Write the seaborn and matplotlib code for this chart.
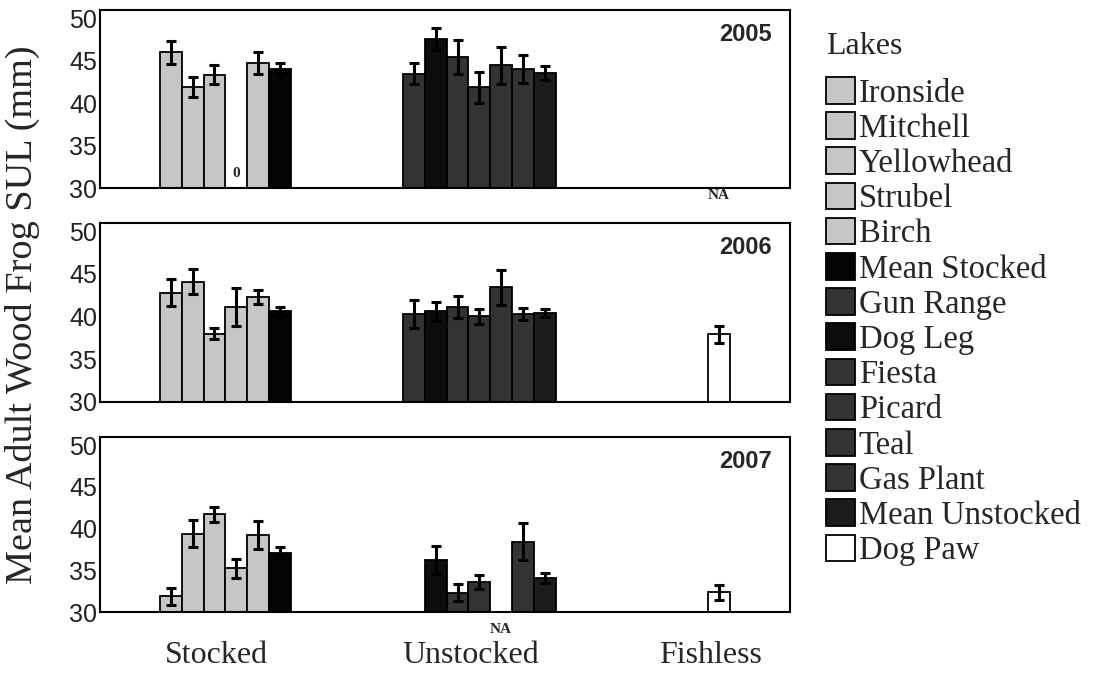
import numpy as np
import pandas as pd
import matplotlib
matplotlib.use("Agg")
import matplotlib.pyplot as plt
import seaborn as sns
from matplotlib.patches import Patch

# ---------------- data ----------------
lakes = ["Ironside", "Mitchell", "Yellowhead", "Strubel", "Birch", "Mean Stocked",
         "Gun Range", "Dog Leg", "Fiesta", "Picard", "Teal", "Gas Plant",
         "Mean Unstocked", "Dog Paw"]
lake_group = ["Stocked"] * 6 + ["Unstocked"] * 7 + ["Fishless"]
group_names = ["Stocked", "Unstocked", "Fishless"]
years = ["2005", "2006", "2007"]

nan = np.nan
sul_2005 = [46.0, 41.9, 43.4, nan, 44.8, 44.1, 43.5, 47.6, 45.5, 41.9, 44.5, 44.05, 43.6, nan]
se_2005 = [1.35, 1.2, 1.15, nan, 1.3, 0.6, 1.2, 1.3, 2.0, 1.8, 2.2, 1.7, 0.8, nan]
sul_2006 = [42.8, 44.1, 38.0, 41.1, 42.25, 40.6, 40.3, 40.6, 41.15, 40.0, 43.4, 40.3, 40.4, 37.9]
se_2006 = [1.6, 1.5, 0.6, 2.2, 0.8, 0.5, 1.6, 1.1, 1.3, 0.9, 2.0, 0.75, 0.5, 1.0]
sul_2007 = [31.9, 39.4, 41.75, 35.25, 39.25, 37.1, nan, 36.25, 32.35, 33.6, nan, 38.45, 34.05, 32.4]
se_2007 = [1.05, 1.65, 0.9, 1.1, 1.7, 0.65, nan, 1.65, 1.05, 0.85, nan, 2.25, 0.6, 0.9]

sul = {"2005": sul_2005, "2006": sul_2006, "2007": sul_2007}
se = {"2005": se_2005, "2006": se_2006, "2007": se_2007}
# text notes for missing bars: (year, lake, text)
notes = [("2005", "Strubel", "0"), ("2005", "Dog Paw", "NA"), ("2007", "Teal", "NA")]

yticks = [30, 35, 40, 45, 50]

# ---------------- style ----------------
light = "#c6c6c6"
dark = "#333333"
colors = {l: light for l in lakes[:5]}
colors.update({"Mean Stocked": "#050505", "Gun Range": dark, "Dog Leg": "#0d0d0d",
               "Fiesta": dark, "Picard": dark, "Teal": dark, "Gas Plant": dark,
               "Mean Unstocked": "#1c1c1c", "Dog Paw": "#ffffff"})

sns.set_style("white")
plt.rcParams["font.family"] = ["Liberation Serif", "DejaVu Serif"]

fig = plt.figure(figsize=(10.97, 6.76), dpi=100)
W, H = 1097, 676
left, right = 100, 790
panels_px = [(10, 188.3), (222.7, 401.7), (436.7, 612.3)]

# layout of slots (bar-width units)
group_start = {"Stocked": 2.75, "Unstocked": 13.9, "Fishless": 27.9}
xmax = (right - left) / 21.8
pos = []
counter = {}
for g in lake_group:
    i = counter.get(g, 0)
    pos.append(group_start[g] + i + 0.5)
    counter[g] = i + 1
pos_of = dict(zip(lakes, pos))

axes = []
for (top, bot), year in zip(panels_px, years):
    ax = fig.add_axes([left / W, 1 - bot / H, (right - left) / W, (bot - top) / H])
    axes.append(ax)
    df = pd.DataFrame({"lake": lakes, "pos": pos, "sul": sul[year], "se": se[year]}).dropna()
    sns.barplot(data=df, x="pos", y="sul", hue="lake", hue_order=lakes, palette=colors,
                native_scale=True, dodge=False, width=1.0, errorbar=None, saturation=1,
                edgecolor="black", linewidth=1.3, legend=False, ax=ax)
    ax.errorbar(df["pos"], df["sul"], yerr=df["se"], fmt="none", ecolor="black",
                elinewidth=2.2, capsize=3.5, capthick=2.2, zorder=5)
    ax.set_xlim(0, xmax)
    ax.set_ylim(30, 51)
    ax.set_yticks(yticks)
    ax.set_yticklabels([str(t) for t in yticks], family="Liberation Sans", fontsize=18,
                       color="#222222")
    ax.tick_params(axis="both", length=0, pad=2)
    ax.set_xlabel("")
    ax.set_ylabel("")
    for s in ax.spines.values():
        s.set_visible(True)
        s.set_color("black")
        s.set_linewidth(1.5)
    ax.text(0.974, 0.925, year, transform=ax.transAxes, ha="right", va="top",
            family="Liberation Sans", fontweight="bold", fontsize=17)
    if year == "2007":
        centers = [np.mean([p for p, g in zip(pos, lake_group) if g == gn]) - 0.4
                   for gn in group_names]
        ax.set_xticks(centers)
        ax.set_xticklabels(group_names, fontsize=23)
        ax.tick_params(axis="x", pad=21)
    else:
        ax.set_xticks([])

    for ny, lake, txt in notes:
        if ny != year:
            continue
        if txt == "0":
            ax.text(pos_of[lake], 31.7, txt, ha="center", va="center",
                    fontweight="bold", fontsize=11)
        else:
            dy = -0.043 if year == "2005" else -0.10
            ax.text(pos_of[lake], dy, txt, transform=ax.get_xaxis_transform(),
                    ha="center", va="center", fontweight="bold", fontsize=11)

fig.text(22 / W, 1 - 315 / H, "Mean Adult Wood Frog SUL (mm)", rotation=90,
         ha="center", va="center", fontsize=27.5)

fig.text(826 / W, 1 - 46 / H, "Lakes", ha="left", va="center", fontsize=23)
handles = [Patch(facecolor=colors[l], edgecolor="black", linewidth=1.3) for l in lakes]
leg = fig.legend(handles, lakes, loc="upper left",
                 bbox_to_anchor=(826 / W, 1 - 77 / H), frameon=False, fontsize=23.5,
                 handlelength=0.88, handleheight=0.88,
                 handletextpad=0.12, labelspacing=0.11, borderpad=0, borderaxespad=0)

fig.savefig("out.png", dpi=100)
